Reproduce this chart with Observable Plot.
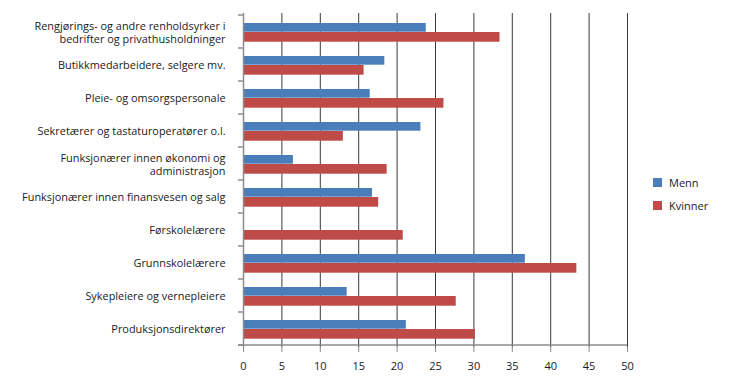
<!DOCTYPE html>
<html><head><meta charset="utf-8">
<script src="https://cdn.jsdelivr.net/npm/d3@7"></script>
<script src="https://cdn.jsdelivr.net/npm/@observablehq/plot@0.6"></script>
<style>
body{margin:0;background:#fff;}
#chart{position:relative;width:730px;height:389px;font-family:"Open Sans",sans-serif;}
.leg{position:absolute;left:653px;font-size:11px;color:#1a1a1a;height:9px;line-height:9px;white-space:nowrap;}
.leg span.sw{display:inline-block;width:9px;height:9px;vertical-align:top;margin-right:7px;}
</style></head><body><div id="chart"></div>
<script>
const categories = [
  "Rengjørings- og andre renholdsyrker i\nbedrifter og privathusholdninger",
  "Butikkmedarbeidere, selgere mv.",
  "Pleie- og omsorgspersonale",
  "Sekretærer og tastaturoperatører o.l.",
  "Funksjonærer innen økonomi og\nadministrasjon",
  "Funksjonærer innen finansvesen og salg",
  "Førskolelærere",
  "Grunnskolelærere",
  "Sykepleiere og vernepleiere",
  "Produksjonsdirektører"
];
const menn    = [23.8, 18.4, 16.5, 23.1, 6.5, 16.8, 0, 36.7, 13.5, 21.2];
const kvinner = [33.4, 15.7, 26.1, 13.0, 18.7, 17.6, 20.8, 43.4, 27.7, 30.2];
const seriesNames = ["Menn", "Kvinner"];
const seriesColors = ["#4a7ebb", "#be4b48"];
const xTicks = [0, 5, 10, 15, 20, 25, 30, 35, 40, 45, 50];

const rows = categories.map((c, i) => ({category: c, menn: menn[i], kvinner: kvinner[i]}));

const plot = Plot.plot({
  width: 730, height: 389,
  marginLeft: 243, marginRight: 103, marginTop: 13, marginBottom: 42,
  style: {fontFamily: "'Open Sans', sans-serif", fontSize: "10.9px", color: "#1a1a1a", background: "transparent"},
  x: {domain: [0, 50]},
  y: {domain: categories, padding: 0},
  marks: [
    Plot.gridX(xTicks.filter(v => v > 0), {stroke: "#3a3a3a", strokeOpacity: 1}),
    Plot.barX(rows, {y: "category", x: "menn", fill: seriesColors[0], insetTop: 8, insetBottom: 16.3}),
    Plot.barX(rows, {y: "category", x: "kvinner", fill: seriesColors[1], insetTop: 17, insetBottom: 6.3}),
    Plot.ruleX([0], {stroke: "#8c8c8c", strokeWidth: 1.5}),
    Plot.axisX(xTicks, {tickSize: 5, tickPadding: 10, stroke: "#8c8c8c", fontSize: 11, label: null}),
    Plot.axisY({tickSize: 0, tickPadding: 18, lineHeight: 1.25, label: null, fontSize: 10.9})
  ]
});

const xs = plot.scale("x"), ys = plot.scale("y");
const x0 = xs.apply(0), x1 = xs.apply(50);
const bounds = categories.map(c => ys.apply(c));
bounds.push(ys.apply(categories[categories.length - 1]) + ys.bandwidth);
const g = d3.select(plot).append("g").attr("stroke", "#8c8c8c").attr("stroke-width", 1.5);
g.selectAll("line.b").data(bounds).join("line")
  .attr("x1", x0 - 5).attr("x2", x0).attr("y1", d => d).attr("y2", d => d);
g.append("line").attr("x1", x0 - 5).attr("x2", x1).attr("y1", bounds[bounds.length - 1]).attr("y2", bounds[bounds.length - 1]);

const chart = document.getElementById("chart");
chart.appendChild(plot);
const legTops = [178, 201];
seriesNames.forEach((name, i) => {
  const d = document.createElement("div");
  d.className = "leg";
  d.style.top = legTops[i] + "px";
  d.innerHTML = `<span class="sw" style="background:${seriesColors[i]}"></span>${name}`;
  chart.appendChild(d);
});
</script>
</body></html>
